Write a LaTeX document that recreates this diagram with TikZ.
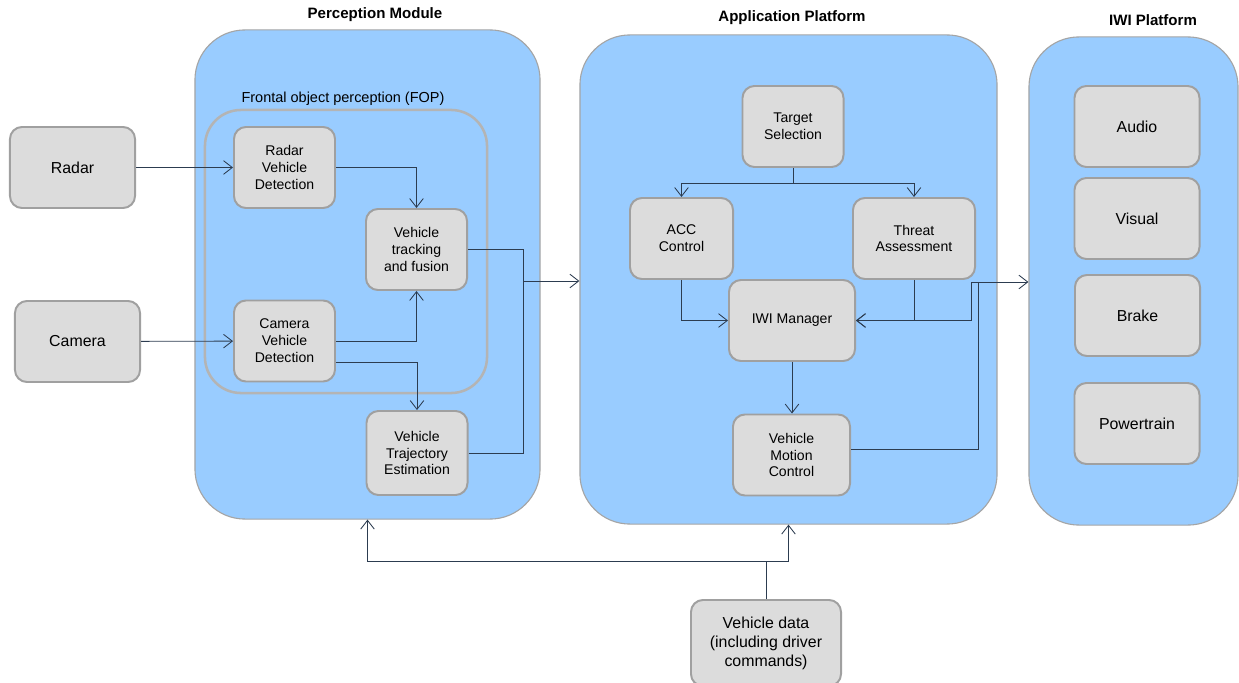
\documentclass[tikz,border=0pt]{standalone}
\usepackage{fontspec}
\setmainfont{Liberation Sans}
\usetikzlibrary{arrows.meta, positioning}
\definecolor{panelblue}{RGB}{153,204,255}
\definecolor{panelline}{RGB}{165,165,165}
\definecolor{boxgray}{RGB}{220,220,220}
\definecolor{boxline}{RGB}{160,160,160}
\definecolor{fopline}{RGB}{180,180,180}
\definecolor{wire}{RGB}{44,60,80}

\begin{document}
\begin{tikzpicture}[
    x=0.025cm, y=-0.025cm,
    panel/.style={rectangle, draw=panelline, line width=0.8pt, fill=panelblue, rounded corners=1.25cm},
    fopbox/.style={rectangle, draw=fopline, line width=1.8pt, rounded corners=0.9cm},
    ttl/.style={font=\fontsize{10.7}{13}\selectfont\bfseries},
    box/.style={rectangle, draw=boxline, line width=1.4pt, fill=boxgray, rounded corners=0.3cm,
        minimum width=2.525cm, minimum height=2.025cm, align=center, font=\fontsize{10}{12}\selectfont},
    bigbox/.style={box, minimum width=3.125cm, font=\fontsize{11.3}{13.5}\selectfont},
    arr/.style={->, line width=0.6pt, draw=wire, >={Straight Barb[length=0.22cm, width=0.34cm]}},
    wire/.style={line width=0.6pt, draw=wire}
]
\useasboundingbox (0,0) rectangle (1239,683);

% platforms
\node[panel, minimum width=8.625cm, minimum height=12.225cm] (percep) at (367.5,274.5) {};
\node[panel, minimum width=10.425cm, minimum height=12.225cm] (app) at (788.5,279.5) {};
\node[panel, minimum width=5.225cm, minimum height=12.2cm] (iwip) at (1133.5,281) {};
\node[ttl] at (375,15) {Perception Module};
\node[ttl] at (792,18) {Application Platform};
\node[ttl] at (1153,20) {IWI Platform};

\node[fopbox, minimum width=7.05cm, minimum height=7.075cm] (fop) at (346,251.5) {};
\node[font=\fontsize{10.3}{12}\selectfont] at (343,99) {Frontal object perception (FOP)};

% sensors
\node[bigbox] (radar) at (72.5,167.5) {Radar};
\node[bigbox] (camera) at (77.5,341.5) {Camera};

% perception
\node[box] (rvd) at (284.5,167.5) {Radar\\Vehicle\\Detection};
\node[box] (vtf) at (416.5,249.5) {Vehicle\\tracking\\and fusion};
\node[box] (cvd) at (284.5,341) {Camera\\Vehicle\\Detection};
\node[box, minimum height=2.1cm] (vte) at (417,453) {Vehicle\\Trajectory\\Estimation};

% application
\node[box] (ts) at (793,126.5) {Target\\Selection};
\node[box, minimum width=2.575cm] (acc) at (681.5,238.5) {ACC\\Control};
\node[box, minimum width=3.05cm] (threat) at (914,238.5) {Threat\\Assessment};
\node[box, minimum width=3.15cm] (iwi) at (792,320.5) {IWI Manager};
\node[box, minimum width=2.925cm] (vmc) at (791.5,455) {Vehicle\\Motion\\Control};

% actuators
\node[bigbox] (audio) at (1137,126.5) {Audio};
\node[bigbox] (visual) at (1137,218.5) {Visual};
\node[bigbox] (brake) at (1137.5,315.5) {Brake};
\node[bigbox] (power) at (1137,423.5) {Powertrain};

\node[bigbox, minimum width=3.75cm, minimum height=2.15cm] (vdata) at (766,643) {Vehicle data\\(including driver\\commands)};

% connectors
\coordinate (pjoin) at (523,281);
\coordinate (tsplit) at (793,183);
\coordinate (fb) at (971,282);
\coordinate (vmcup) at (978,282);
\coordinate (vdsplit) at (766,561);

\draw[arr] (radar) -- (rvd);
\draw[arr] (camera) -- (cvd);
\draw[arr] (rvd.east) -| (vtf.north);
\draw[arr] (cvd.east) -| (vtf.south);
\draw[arr] ([yshift=-0.525cm]cvd.east) -| (vte.north);
\draw[wire] (vtf.east) -| (pjoin);
\draw[wire] (vte.east) -| (pjoin);
\draw[arr] (pjoin) -- (pjoin -| app.west);

\draw[wire] (ts.south) -- (tsplit);
\draw[arr] (tsplit) -| (acc.north);
\draw[arr] (tsplit) -| (threat.north);
\draw[arr] (acc.south) |- (iwi.west);
\draw[arr] (threat.south) |- (iwi.east);
\draw[arr] (iwi.south) -- (iwi.south |- vmc.north);
\draw[wire] ([yshift=0.15cm]vmc.east) -| (vmcup);
\draw[arr] (fb) |- (iwi.east);
\draw[arr] (fb) -- (fb -| iwip.west);

\draw[wire] (vdata.north) -- (vdsplit);
\draw[arr] (vdsplit) -| (percep.south);
\draw[arr] (vdsplit) -| (app.south);
\end{tikzpicture}
\end{document}
